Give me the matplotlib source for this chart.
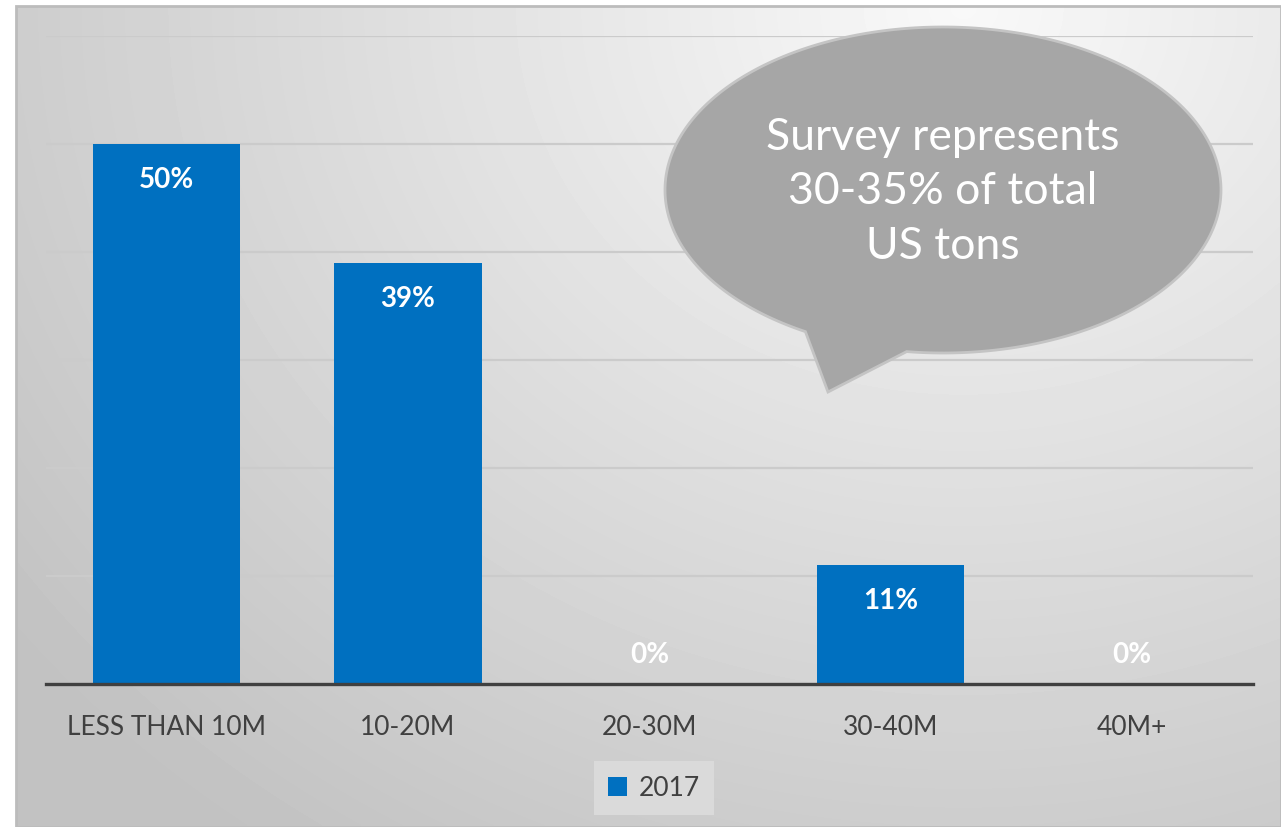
# Bar chart: share of respondents by tonnage band, 2017

import numpy as np
import matplotlib.pyplot as plt
from matplotlib.patches import Polygon, Rectangle

categories = ['LESS THAN 10M', '10-20M', '20-30M', '30-40M', '40M+']
values_2017 = [0.50, 0.39, 0.00, 0.11, 0.00]
series_name = '2017'
bubble_text = 'Survey represents\n30-35% of total\nUS tons'

W, H = 1281, 827
blue = '#0070c0'
font = ['Lato', 'DejaVu Sans']

fig = plt.figure(figsize=(W / 100, H / 100), dpi=100)

# background gradient on a pixel-space axes
bg = fig.add_axes([0, 0, 1, 1], zorder=0)
bg.set_xlim(0, W)
bg.set_ylim(H, 0)
bg.axis('off')
x0, y0 = 16, 6
xx, yy = np.meshgrid(np.linspace(0, 1, 300), np.linspace(0, 1, 200))
r = np.sqrt(((xx - 0.75) / 0.75) ** 2 + (yy - 0.0) ** 2)
shade = np.clip(0.975 - 0.17 * r, 0.76, 1.0)
bg.imshow(shade, cmap='gray', vmin=0, vmax=1, extent=[x0, W, H, y0],
          aspect='auto', interpolation='bilinear')
bg.add_patch(Rectangle((x0, y0), W - x0, H - y0, fill=False,
                       edgecolor='#bcbcbc', lw=2))

# main axes
ax = fig.add_axes([45.75 / W, (H - 684) / H, (1253 - 45.75) / W, 648 / H], zorder=1)
ax.patch.set_alpha(0)
x = np.arange(len(categories))
bars = ax.bar(x, values_2017, width=0.61, color=blue, label=series_name, zorder=3)
ax.set_xlim(-0.5, len(categories) - 0.5)
ax.set_ylim(0, 0.6)
ax.set_yticks(np.arange(0, 0.61, 0.1))
ax.yaxis.grid(True, color='#cbcbcb', lw=1.6, zorder=0)
ax.set_axisbelow(True)
ax.tick_params(axis='y', left=False, labelleft=False)
ax.tick_params(axis='x', length=0, pad=22, labelsize=19, labelcolor='#404040')
ax.set_xticks(x)
ax.set_xticklabels(categories, fontfamily=font)
for s in ['top', 'right', 'left']:
    ax.spines[s].set_visible(False)
ax.spines['bottom'].set_color('#404040')
ax.spines['bottom'].set_linewidth(2.4)
ax.spines['bottom'].set_zorder(4)

for xi, v in zip(x, values_2017):
    off = -36 if v > 0 else 29
    ax.annotate('{:.0%}'.format(v), (xi, v), xytext=(0, off), textcoords='offset pixels',
                ha='center', va='center', color='white', fontsize=20,
                fontweight='bold', fontfamily=font, zorder=5)

leg = fig.legend(loc='center', bbox_to_anchor=(654 / W, 1 - 788 / H), frameon=True,
                 fancybox=False, prop={'family': font, 'size': 19},
                 handlelength=0.7, handleheight=0.7, handletextpad=0.45,
                 borderpad=0.55)
leg.get_frame().set_facecolor('#dedede')
leg.get_frame().set_edgecolor('none')
for t in leg.get_texts():
    t.set_color('#404040')

# speech bubble
ov = fig.add_axes([0, 0, 1, 1], zorder=6)
ov.set_xlim(0, W)
ov.set_ylim(H, 0)
ov.axis('off')
cx, cy, a, b = 943, 190, 278, 163
tl = np.arctan2((330 - cy) / b, (807 - cx) / a)
tr = np.arctan2((350 - cy) / b, (907 - cx) / a)
th = np.linspace(tl, tr + 2 * np.pi, 300)
pts = np.column_stack([cx + a * np.cos(th), cy + b * np.sin(th)])
pts = np.vstack([pts, [828, 392]])
ov.add_patch(Polygon(pts, closed=True, facecolor='#a6a6a6', edgecolor='#c4c4c4', lw=2))
ov.text(943, 192, bubble_text, ha='center', va='center', color='white',
        fontsize=32, fontfamily=font, linespacing=1.42)

plt.savefig('out.png', dpi=100)
